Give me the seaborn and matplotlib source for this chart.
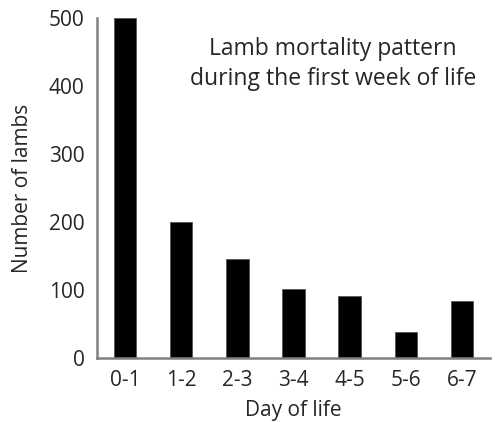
import numpy as np
import pandas as pd
import matplotlib
matplotlib.use("Agg")
import matplotlib.pyplot as plt
import seaborn as sns

sns.set_style("white")
plt.rcParams['font.family'] = ['Open Sans', 'DejaVu Sans']

# data
days = ["0-1", "1-2", "2-3", "3-4", "4-5", "5-6", "6-7"]
lambs = [500, 200, 145, 102, 91, 38, 84]

df = pd.DataFrame({"day": days, "lambs": lambs})

fig = plt.figure(figsize=(4.95, 4.22), dpi=100)
ax = fig.add_axes([0.196, 0.152, 0.794, 0.805])

sns.barplot(data=df, x="day", y="lambs", color="black", width=0.4,
            edgecolor="#555555", linewidth=0.6, saturation=1, ax=ax)

ax.set_xlim(-0.5, 6.5)
ax.set_ylim(0, 500)
ax.set_yticks([0, 100, 200, 300, 400, 500])
ax.set_xlabel("Day of life", fontsize=15, va="center")
ax.set_ylabel("Number of lambs", fontsize=15, va="center")
ax.xaxis.set_label_coords(0.5, -0.155)
ax.yaxis.set_label_coords(-0.19, 0.5)
ax.tick_params(axis="y", length=6, width=1.5, color="#808080", labelsize=15, pad=3)
ax.tick_params(axis="x", length=0, labelsize=15, pad=9)

sns.despine(ax=ax)
for s in ["left", "bottom"]:
    ax.spines[s].set_color("#808080")
    ax.spines[s].set_linewidth(1.8)

ax.text(0.6, 0.865, "Lamb mortality pattern\nduring the first week of life",
        transform=ax.transAxes, ha="center", va="center", fontsize=16.5,
        linespacing=1.3)

fig.savefig("out.png", dpi=100)
